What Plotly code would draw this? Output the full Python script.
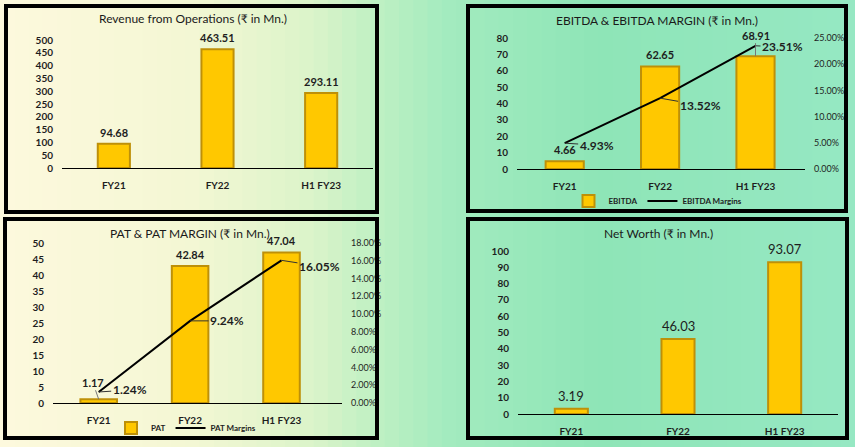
import plotly.graph_objects as go

W, H = 855, 447

# Data
years = ["FY21", "FY22", "H1 FY23"]
revenue = [94.68, 463.51, 293.11]
ebitda = [4.66, 62.65, 68.91]
ebitda_margin = [0.0493, 0.1352, 0.2351]
pat = [1.17, 42.84, 47.04]
pat_margin = [0.0124, 0.0924, 0.1605]
net_worth = [3.19, 46.03, 93.07]

FONT = "Lato, 'Noto Sans', sans-serif"
BAR_FILL = "#FFC800"
BAR_EDGE = "#BE9008"
TXT = "#1e1e1e"


def px_x(p):
    return p / W


def px_y(p):
    return 1 - p / H


def hexmix(c1, c2, t):
    a = [int(c1[i:i + 2], 16) for i in (1, 3, 5)]
    b = [int(c2[i:i + 2], 16) for i in (1, 3, 5)]
    return "#" + "".join(f"{round(a[k] + (b[k] - a[k]) * t):02x}" for k in range(3))


def bg_color(f):
    stops = [(0, "#fdf9dd"), (0.22, "#f4f7d4"), (0.36, "#dcf4ca"),
             (0.44, "#bff0c3"), (0.52, "#a4ebbf"), (0.7, "#8ee5b7"), (1.0, "#96e8c3")]
    for (f0, c0), (f1, c1) in zip(stops, stops[1:]):
        if f <= f1:
            return hexmix(c0, c1, (f - f0) / (f1 - f0))
    return stops[-1][1]


fig = go.Figure()

# panel layouts in pixels: x0, x1 (plot area), y_top, y_zero
panels = {
    "p1": (62, 373, 40, 168),
    "p2": (517, 805, 38, 169),
    "p3": (53, 342, 243, 403),
    "p4": (518, 838, 251, 414),
}


def dom(p):
    x0, x1, yt, yz = panels[p]
    return [px_x(x0), px_x(x1)], [px_y(yz), px_y(yt)]


bar_common = dict(marker=dict(color=BAR_FILL, line=dict(color=BAR_EDGE, width=2)))

fig.add_trace(go.Bar(x=years, y=revenue, width=0.31, xaxis="x", yaxis="y",
                     showlegend=False, **bar_common))
fig.add_trace(go.Bar(x=years, y=ebitda, width=0.4, xaxis="x2", yaxis="y2",
                     name="EBITDA", legend="legend", **bar_common))
fig.add_trace(go.Scatter(x=years, y=ebitda_margin, mode="lines", xaxis="x2", yaxis="y3",
                         name="EBITDA Margins", legend="legend",
                         line=dict(color="black", width=2)))
fig.add_trace(go.Bar(x=years, y=pat, width=0.4, xaxis="x3", yaxis="y4",
                     name="PAT", legend="legend2", **bar_common))
fig.add_trace(go.Scatter(x=years, y=pat_margin, mode="lines", xaxis="x3", yaxis="y5",
                         name="PAT Margins", legend="legend2",
                         line=dict(color="black", width=2)))
fig.add_trace(go.Bar(x=years, y=net_worth, width=0.31, xaxis="x4", yaxis="y6",
                     showlegend=False, **bar_common))

tickfont = dict(family=FONT, size=10, color=TXT, weight="bold")
pctfont = dict(family=FONT, size=9, color=TXT)


def xax(p, anchor):
    d, _ = dom(p)
    return dict(domain=d, anchor=anchor, type="category", showgrid=False,
                showline=True, linecolor="black", linewidth=1, ticks="",
                tickfont=tickfont, ticklabelstandoff=8, fixedrange=True,
                automargin=False)


def yax(p, rng, dtick, anchor, side="left", fmt=None, overlay=None):
    _, d = dom(p)
    ax = dict(domain=d, anchor=anchor, range=rng, dtick=dtick, showgrid=False,
              zeroline=False, showline=False, side=side, ticks="",
              tickfont=pctfont if fmt else tickfont, ticklabelstandoff=8,
              fixedrange=True, automargin=False)
    if fmt:
        ax["tickformat"] = fmt
    if overlay:
        ax["overlaying"] = overlay
    return ax


fig.update_layout(
    xaxis=xax("p1", "y"),
    xaxis2=xax("p2", "y2"),
    xaxis3=xax("p3", "y4"),
    xaxis4=xax("p4", "y6"),
    yaxis=yax("p1", [0, 500], 50, "x"),
    yaxis2=yax("p2", [0, 80], 10, "x2"),
    yaxis3=yax("p2", [0, 0.25], 0.05, "x2", side="right", fmt=".2%", overlay="y2"),
    yaxis4=yax("p3", [0, 50], 5, "x3"),
    yaxis5=yax("p3", [0, 0.18], 0.02, "x3", side="right", fmt=".2%", overlay="y4"),
    yaxis6=yax("p4", [0, 100], 10, "x4"),
)

# background gradient strips
shapes = []
n = 60
for i in range(n):
    shapes.append(dict(type="rect", xref="paper", yref="paper", layer="below",
                       x0=i / n, x1=(i + 1) / n + 0.002, y0=0, y1=1,
                       fillcolor=bg_color((i + 0.5) / n), line=dict(width=0)))

# panel frames
frames = [(6, 377, 6, 212), (468, 846, 6, 211), (5, 377, 219, 438), (468, 847, 219, 438)]
for x0, x1, y0, y1 in frames:
    shapes.append(dict(type="rect", xref="paper", yref="paper", layer="above",
                       x0=px_x(x0), x1=px_x(x1), y0=px_y(y1), y1=px_y(y0),
                       line=dict(color="black", width=4)))

annotations = []

# titles
titles = [("Revenue from Operations (₹ in Mn.)", 193, 19),
          ("EBITDA & EBITDA MARGIN (₹ in Mn.)", 657, 20),
          ("PAT & PAT MARGIN (₹ in Mn.)", 190, 233),
          ("Net Worth (₹ in Mn.)", 658, 233)]
for t, x, y in titles:
    annotations.append(dict(text=t, xref="paper", yref="paper", x=px_x(x), y=px_y(y),
                            showarrow=False, xanchor="center", yanchor="middle",
                            font=dict(family=FONT, size=12, color="#1a1a1a")))

# bar value labels
bar_sets = [("x", "y", revenue, {}, dict(size=11, weight="bold")),
            ("x2", "y2", ebitda, {2: (0, -21)}, dict(size=11, weight="bold")),
            ("x3", "y4", pat, {0: (-6, -17)}, dict(size=11, weight="bold")),
            ("x4", "y6", net_worth, {}, dict(size=13, weight="normal"))]
for xr, yr, vals, leaders, f in bar_sets:
    for i, v in enumerate(vals):
        a = dict(x=years[i], y=v, xref=xr, yref=yr, text=f"{v:.2f}",
                 font=dict(family=FONT, color=TXT, **f))
        if i in leaders:
            ax_, ay_ = leaders[i]
            a.update(showarrow=True, arrowhead=0, arrowwidth=1, arrowcolor="#777",
                     ax=ax_, ay=ay_)
        else:
            a.update(showarrow=False, yanchor="bottom", yshift=3)
        annotations.append(a)

# margin labels with leader lines
margin_sets = [("x2", "y3", ebitda_margin, [(32, 2), (40, 7), (27, 1)]),
               ("x3", "y5", pat_margin, [(31, -2), (37, 0), (38, 6)])]
for xr, yr, vals, offs in margin_sets:
    for i, v in enumerate(vals):
        annotations.append(dict(x=years[i], y=v, xref=xr, yref=yr, text=f"{v * 100:.2f}%",
                                showarrow=True, arrowhead=0, arrowwidth=1, arrowcolor="#333",
                                ax=offs[i][0], ay=offs[i][1],
                                font=dict(family=FONT, size=12, color=TXT, weight="bold")))

legend_font = dict(family=FONT, size=8, color=TXT, weight="bold")
fig.update_layout(
    width=W, height=H,
    margin=dict(l=0, r=0, t=0, b=0, pad=0, autoexpand=False),
    paper_bgcolor="#a4ebbf",
    plot_bgcolor="rgba(0,0,0,0)",
    shapes=shapes,
    annotations=annotations,
    font=dict(family=FONT, color=TXT),
    legend=dict(orientation="h", x=px_x(658), y=px_y(201), xanchor="center", yanchor="middle",
                bgcolor="rgba(0,0,0,0)", font=legend_font, itemwidth=30, tracegroupgap=0),
    legend2=dict(orientation="h", x=px_x(186), y=px_y(428), xanchor="center", yanchor="middle",
                 bgcolor="rgba(0,0,0,0)", font=legend_font, itemwidth=30, tracegroupgap=0),
)

pin = ("document.body.style.margin='0';"
       "document.documentElement.style.overflow='hidden';"
       "var d=document.getElementById('{plot_id}');"
       "d.style.position='fixed';d.style.top='0';d.style.left='0';")
fig.write_html("out.html", config={"displayModeBar": False}, post_script=pin)
